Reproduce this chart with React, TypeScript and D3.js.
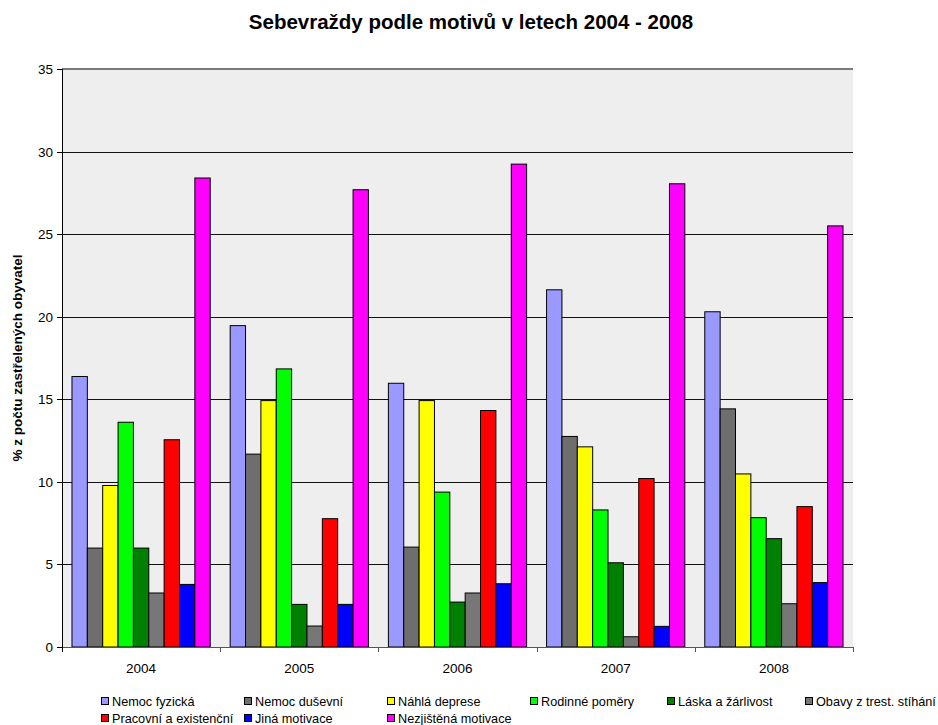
import React from "react";
import * as d3 from "d3";

const years = ["2004", "2005", "2006", "2007", "2008"];
const seriesNames = [
  "Nemoc fyzická",
  "Nemoc duševní",
  "Náhlá deprese",
  "Rodinné poměry",
  "Láska a žárlivost",
  "Obavy z trest. stíhání",
  "Pracovní a existenční",
  "Jiná motivace",
  "Nezjištěná motivace",
];
const seriesColors = ["#9999FF", "#6E6E6E", "#FFFF00", "#00FF00", "#008000", "#777777", "#FF0000", "#0000FF", "#FF00FF"];
// values[series][year]
const nemocFyzicka = [16.38, 19.46, 15.97, 21.63, 20.3];
const nemocDusevni = [5.99, 11.68, 6.05, 12.75, 14.42];
const nahlaDeprese = [9.78, 14.92, 14.92, 12.12, 10.48];
const rodinnePomery = [13.61, 16.84, 9.38, 8.3, 7.83];
const laskaZarlivost = [5.99, 2.58, 2.72, 5.1, 6.56];
const obavyTrest = [3.27, 1.27, 3.27, 0.62, 2.62];
const pracovniExist = [12.55, 7.77, 14.32, 10.2, 8.5];
const jinaMotivace = [3.79, 2.58, 3.83, 1.25, 3.9];
const nezjistena = [28.4, 27.69, 29.24, 28.05, 25.5];
const values = [nemocFyzicka, nemocDusevni, nahlaDeprese, rodinnePomery, laskaZarlivost, obavyTrest, pracovniExist, jinaMotivace, nezjistena];
const yTicks = [0, 5, 10, 15, 20, 25, 30, 35];

const legendRows = [
  [0, 1, 2, 3, 4, 5],
  [6, 7, 8],
];
const legendX = [101, 244, 387, 530, 667, 805];

export default function App() {
  const W = 938, H = 725;
  const left = 62, right = 853, top = 69, bottom = 647;
  const font = "'Liberation Sans', Arial, sans-serif";
  const x0 = d3.scaleBand<string>().domain(years).range([left, right]).padding(0);
  const x1 = d3.scaleBand<string>().domain(seriesNames).range([0, x0.bandwidth()]).paddingInner(0).paddingOuter(0.65);
  const y = d3.scaleLinear().domain([0, 35]).range([bottom, top]);

  return (
    <svg width={W} height={H} style={{ position: "absolute", left: 0, top: 0 }} fontFamily={font}>
      <rect x={0} y={0} width={W} height={H} fill="#fff" />
      <text x={471} y={29} textAnchor="middle" fontSize={20.5} fontWeight="bold" fill="#000">
        Sebevraždy podle motivů v letech 2004 - 2008
      </text>
      <rect x={left} y={top} width={right - left} height={bottom - top} fill="#EEEEEE" />
      {yTicks.filter((t) => t > 0 && t < 35).map((t) => (
        <line key={t} x1={left} x2={right} y1={Math.round(y(t)) + 0.5} y2={Math.round(y(t)) + 0.5} stroke="#111" strokeWidth={1} />
      ))}
      <line x1={left} x2={right} y1={y(35)} y2={y(35)} stroke="#7a7a7a" strokeWidth={2} />
      {yTicks.map((t) => (
        <g key={"yt" + t}>
          <line x1={left - 5} x2={left} y1={Math.round(y(t)) + 0.5} y2={Math.round(y(t)) + 0.5} stroke="#000" />
          <text x={left - 9} y={y(t) + 5} textAnchor="end" fontSize={13.5} fill="#000">{t}</text>
        </g>
      ))}
      {years.map((yr, yi) => (
        <g key={yr}>
          {seriesNames.map((s, si) => {
            const v = values[si][yi];
            const bx = (x0(yr) as number) + (x1(s) as number);
            return (
              <rect key={s} x={bx} y={y(v)} width={x1.bandwidth()} height={y(0) - y(v)} fill={seriesColors[si]} stroke="#000" strokeWidth={1} />
            );
          })}
          <text x={(x0(yr) as number) + x0.bandwidth() / 2} y={673} textAnchor="middle" fontSize={13.5} fill="#000">{yr}</text>
        </g>
      ))}
      <line x1={left} x2={right} y1={bottom + 0.5} y2={bottom + 0.5} stroke="#555" />
      {[...years.map((yr) => x0(yr) as number), right].map((xv, i) => (
        <line key={"xt" + i} x1={Math.round(xv) + 0.5} x2={Math.round(xv) + 0.5} y1={bottom} y2={bottom + 5} stroke="#555" />
      ))}
      <line x1={left + 0.5} x2={left + 0.5} y1={top} y2={bottom + 5} stroke="#000" />
      <text transform={`translate(22,${(top + bottom) / 2}) rotate(-90)`} textAnchor="middle" fontSize={13.5} fontWeight="bold" fill="#000">
        % z počtu zastřelených obyvatel
      </text>
      {legendRows.map((row, ri) =>
        row.map((si, ci) => (
          <g key={"lg" + si}>
            <rect x={legendX[ci] + 0.5} y={697.5 + ri * 17} width={7} height={7} fill={seriesColors[si]} stroke="#000" />
            <text x={legendX[ci] + 11} y={705.5 + ri * 17} fontSize={12.7} fill="#000">{seriesNames[si]}</text>
          </g>
        ))
      )}
    </svg>
  );
}
